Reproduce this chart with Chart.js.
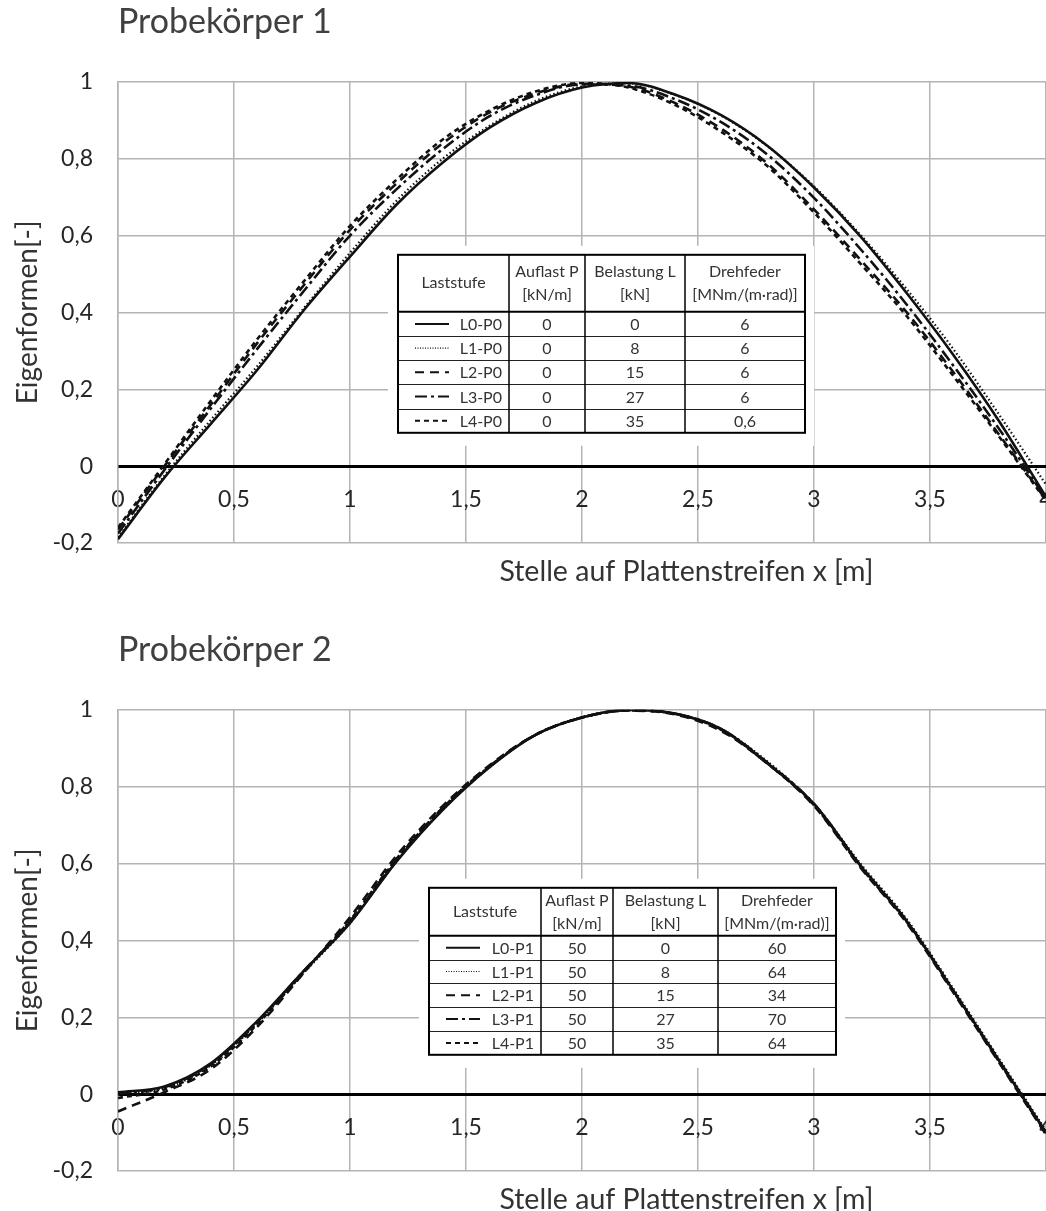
<!DOCTYPE html>
<html>
<head>
<meta charset="utf-8">
<script src="https://cdn.jsdelivr.net/npm/chart.js@4.4.1/dist/chart.umd.min.js"></script>
<style>
  body { margin: 0; background: #fff; overflow: hidden; width: 1046px; height: 1211px; position: relative; }
  .box { position: absolute; left: 0; width: 1046px; height: 600px; overflow: hidden; }
</style>
</head>
<body>
<div class="box" style="top:0"><canvas id="c1" width="1058" height="600"></canvas></div>
<div class="box" style="top:628px"><canvas id="c2" width="1058" height="600"></canvas></div>
<script>
// Stelle x [m]
const xs = [0, 0.2, 0.4, 0.6, 0.8, 1.0, 1.2, 1.4, 1.6, 1.8, 2.0, 2.2, 2.4, 2.6, 2.8, 3.0, 3.2, 3.4, 3.6, 3.8, 4.0];

// Probekörper 1
const l0p0 = [-0.19, -0.03, 0.11, 0.25, 0.405, 0.545, 0.68, 0.79, 0.88, 0.945, 0.985, 0.997, 0.967, 0.913, 0.833, 0.725, 0.598, 0.45, 0.29, 0.115, -0.08];
const l1p0 = [-0.185, -0.025, 0.12, 0.26, 0.41, 0.555, 0.69, 0.8, 0.885, 0.95, 0.988, 0.996, 0.966, 0.912, 0.832, 0.728, 0.602, 0.46, 0.305, 0.132, -0.048];
const l2p0 = [-0.165, 0.0, 0.16, 0.32, 0.47, 0.615, 0.735, 0.84, 0.92, 0.97, 0.995, 0.988, 0.945, 0.878, 0.787, 0.668, 0.537, 0.4, 0.245, 0.08, -0.088];
const l3p0 = [-0.175, -0.01, 0.15, 0.305, 0.455, 0.6, 0.72, 0.825, 0.91, 0.965, 0.993, 0.99, 0.955, 0.895, 0.81, 0.698, 0.565, 0.42, 0.262, 0.095, -0.085];
const l4p0 = [-0.16, 0.005, 0.17, 0.33, 0.48, 0.625, 0.745, 0.85, 0.925, 0.975, 0.997, 0.985, 0.94, 0.87, 0.78, 0.66, 0.527, 0.39, 0.235, 0.075, -0.09];

// Probekörper 2
const l0p1 = [0.005, 0.02, 0.08, 0.19, 0.32, 0.445, 0.605, 0.74, 0.85, 0.935, 0.98, 1.0, 0.99, 0.95, 0.86, 0.755, 0.595, 0.45, 0.27, 0.085, -0.1];
const l1p1 = [0.0, 0.015, 0.075, 0.185, 0.315, 0.445, 0.605, 0.74, 0.85, 0.935, 0.98, 0.999, 0.99, 0.95, 0.865, 0.755, 0.6, 0.455, 0.275, 0.09, -0.095];
const l2p1 = [-0.045, 0.005, 0.065, 0.175, 0.315, 0.46, 0.62, 0.75, 0.855, 0.935, 0.98, 0.998, 0.988, 0.945, 0.86, 0.75, 0.59, 0.445, 0.265, 0.08, -0.105];
const l3p1 = [0.0, 0.018, 0.078, 0.188, 0.32, 0.45, 0.61, 0.745, 0.852, 0.935, 0.98, 0.999, 0.99, 0.95, 0.862, 0.755, 0.595, 0.45, 0.27, 0.085, -0.1];
const l4p1 = [-0.01, 0.012, 0.072, 0.182, 0.318, 0.452, 0.612, 0.745, 0.852, 0.935, 0.98, 0.998, 0.99, 0.948, 0.86, 0.752, 0.592, 0.448, 0.268, 0.082, -0.102];

// Tabelle
const stufen1 = ['L0-P0', 'L1-P0', 'L2-P0', 'L3-P0', 'L4-P0'];
const stufen2 = ['L0-P1', 'L1-P1', 'L2-P1', 'L3-P1', 'L4-P1'];
const auflast1 = ['0', '0', '0', '0', '0'];
const auflast2 = ['50', '50', '50', '50', '50'];
const belastung = ['0', '8', '15', '27', '35'];
const drehfeder1 = ['6', '6', '6', '6', '0,6'];
const drehfeder2 = ['60', '64', '34', '70', '64'];
const kopf = [['Laststufe'], ['Auflast P', '[kN/m]'], ['Belastung L', '[kN]'], ['Drehfeder', '[MNm/(m·rad)]']];

const xTicks = { min: 0, max: 4, step: 0.5 };
const yTicks = { min: -0.2, max: 1, step: 0.2 };

const FONT = 'Lato, "Open Sans", sans-serif';
const gridColor = '#b4b4b4';
const linestyles = [
  { borderDash: [], borderWidth: 2.6 },
  { borderDash: [1.5, 2.5], borderWidth: 2.2 },
  { borderDash: [9, 6], borderWidth: 2.6 },
  { borderDash: [12, 4, 3, 4], borderWidth: 2.6 },
  { borderDash: [5, 4], borderWidth: 2.6 }
];

function komma(v) {
  return String(Math.round(v * 10) / 10).replace('.', ',');
}

function tablePlugin(t) {
  return {
    id: 'lastTable',
    beforeDatasetsDraw(chart) {
      const ctx = chart.ctx;
      const a = chart.chartArea;
      const x0 = a.left + t.left, y0 = a.top + t.top;
      const w = t.cols.reduce((s, c) => s + c, 0);
      const h = t.head + t.row * 5;
      ctx.save();
      ctx.fillStyle = '#fff';
      ctx.fillRect(x0 - 10, y0 - 9, w + 19, h + 22);

      ctx.fillStyle = '#333';
      ctx.font = '16px ' + FONT;
      ctx.textAlign = 'center';
      ctx.textBaseline = 'middle';
      let cx = x0;
      kopf.forEach((lines, c) => {
        const mid = cx + t.cols[c] / 2;
        if (lines.length === 1) ctx.fillText(lines[0], mid, y0 + t.head / 2);
        else {
          ctx.fillText(lines[0], mid, y0 + t.head / 2 - 11);
          ctx.fillText(lines[1], mid, y0 + t.head / 2 + 12);
        }
        cx += t.cols[c];
      });

      for (let i = 0; i < 5; i++) {
        const cy = y0 + t.head + t.row * i + t.row / 2;
        const ds = chart.data.datasets[i];
        ctx.save();
        ctx.strokeStyle = '#111';
        ctx.lineWidth = i === 1 ? 1.2 : 2;
        ctx.setLineDash(i === 1 ? [1, 1.5] : ds.borderDash);
        ctx.beginPath();
        ctx.moveTo(x0 + 17, cy);
        ctx.lineTo(x0 + 51, cy);
        ctx.stroke();
        ctx.restore();
        ctx.textAlign = 'right';
        ctx.fillText(t.names[i], x0 + t.cols[0] - 7, cy + 1);
        ctx.textAlign = 'center';
        let px = x0 + t.cols[0];
        [t.auflast[i], belastung[i], t.dreh[i]].forEach((v, k) => {
          ctx.fillText(v, px + t.cols[k + 1] / 2, cy + 1);
          px += t.cols[k + 1];
        });
      }

      ctx.strokeStyle = '#222';
      ctx.lineWidth = 1;
      for (let i = 1; i < 5; i++) {
        const yy = Math.round(y0 + t.head + t.row * i) + 0.5;
        ctx.beginPath(); ctx.moveTo(x0, yy); ctx.lineTo(x0 + w, yy); ctx.stroke();
      }
      ctx.strokeStyle = '#000';
      ctx.lineWidth = 1.5;
      let vx = x0;
      for (let c = 0; c < 3; c++) {
        vx += t.cols[c];
        ctx.beginPath(); ctx.moveTo(vx, y0); ctx.lineTo(vx, y0 + h); ctx.stroke();
      }
      ctx.lineWidth = 2;
      ctx.beginPath(); ctx.moveTo(x0, y0 + t.head); ctx.lineTo(x0 + w, y0 + t.head); ctx.stroke();
      ctx.strokeRect(x0, y0, w, h);
      ctx.restore();
    },
    afterDraw(chart) {
      const ctx = chart.ctx;
      ctx.save();
      ctx.font = '28.5px ' + FONT;
      ctx.fillStyle = '#333';
      ctx.textAlign = 'center';
      ctx.textBaseline = 'middle';
      ctx.fillText('Stelle auf Plattenstreifen x [m]', chart.scales.x.getPixelForValue(2.45), chart.chartArea.bottom + 29);
      ctx.restore();
    }
  };
}

function makeChart(id, title, names, series, table) {
  return new Chart(document.getElementById(id), {
    type: 'line',
    data: {
      datasets: series.map((ys, i) => ({
        label: names[i],
        data: xs.map((x, k) => ({ x: x, y: ys[k] })),
        borderColor: '#111',
        borderWidth: linestyles[i].borderWidth,
        borderDash: linestyles[i].borderDash,
        pointRadius: 0,
        fill: false,
        cubicInterpolationMode: 'monotone'
      }))
    },
    options: {
      responsive: false,
      animation: false,
      devicePixelRatio: 1,
      layout: { padding: { left: 0, right: 12, top: 0, bottom: 57 } },
      plugins: {
        legend: { display: false },
        tooltip: { enabled: false },
        title: {
          display: true,
          text: title,
          align: 'start',
          fullSize: false,
          color: '#404040',
          font: { family: FONT, size: 34, weight: 'normal' },
          padding: { top: 2, bottom: 39 }
        }
      },
      scales: {
        x: {
          type: 'linear',
          position: { y: 0 },
          min: xTicks.min, max: xTicks.max,
          ticks: { stepSize: xTicks.step, callback: komma, color: '#262626', padding: 20, maxRotation: 0,
                   font: { family: FONT, size: 23 } },
          grid: { color: gridColor, lineWidth: 1.5, drawTicks: false },
          border: { color: '#000', width: 3 },
          afterFit(s) { s.paddingLeft = 0; s.paddingRight = 0; }
        },
        y: {
          type: 'linear',
          position: 'left',
          min: yTicks.min, max: yTicks.max,
          ticks: { stepSize: yTicks.step, callback: komma, color: '#262626', padding: 25,
                   font: { family: FONT, size: 23 } },
          grid: { color: gridColor, lineWidth: 1.5, drawTicks: false },
          border: { color: gridColor, width: 1.5 },
          title: { display: true, text: 'Eigenformen[-]', color: '#333',
                   font: { family: FONT, size: 28 }, padding: { top: 11, bottom: 0 } },
          afterFit(s) { s.width = 118; }
        }
      }
    },
    plugins: [tablePlugin(table)]
  });
}

makeChart('c1', 'Probekörper 1', stufen1, [l0p0, l1p0, l2p0, l3p0, l4p0],
  { left: 280, top: 173, cols: [111, 76, 100, 120], head: 57, row: 24.2,
    names: stufen1, auflast: auflast1, dreh: drehfeder1 });

makeChart('c2', 'Probekörper 2', stufen2, [l0p1, l1p1, l2p1, l3p1, l4p1],
  { left: 311, top: 178, cols: [112, 72, 105, 118], head: 48, row: 23.8,
    names: stufen2, auflast: auflast2, dreh: drehfeder2 });
</script>
</body>
</html>
